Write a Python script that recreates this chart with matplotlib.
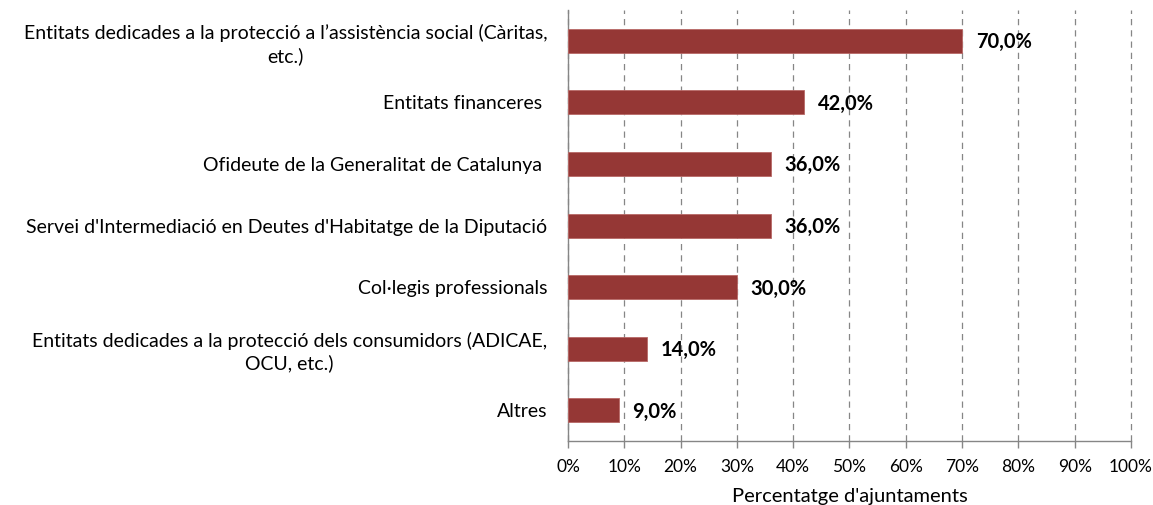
import matplotlib
matplotlib.use('Agg')
import matplotlib.pyplot as plt

plt.rcParams['font.family'] = ['Lato', 'DejaVu Sans']

categories = [
    "Entitats dedicades a la protecció a l\u2019assistència social (Càritas,\netc.)",
    "Entitats financeres ",
    "Ofideute de la Generalitat de Catalunya ",
    "Servei d'Intermediació en Deutes d'Habitatge de la Diputació",
    "Col\u00b7legis professionals",
    "Entitats dedicades a la protecció dels consumidors (ADICAE,\nOCU, etc.)",
    "Altres",
]
values = [70.0, 42.0, 36.0, 36.0, 30.0, 14.0, 9.0]
xticks = [0, 10, 20, 30, 40, 50, 60, 70, 80, 90, 100]

fig = plt.figure(figsize=(11.53, 5.05), dpi=100)
ax = fig.add_axes([0.4926, 0.1267, 0.4883, 0.8535])

ypos = list(range(len(categories)))
ax.barh(ypos, values, height=0.39, color='#953735', edgecolor='#b86866', linewidth=0.6, zorder=3)

for y, v in zip(ypos, values):
    ax.annotate(f"{v:.1f}".replace('.', ',') + '%', (v, y), xytext=(10, -1),
                textcoords='offset points', ha='left', va='center',
                fontsize=14.5, fontweight='bold', color='black', zorder=4)

ax.set_xlim(0, 100)
ax.set_ylim(len(categories) - 0.5, -0.5)
ax.set_yticks(ypos)
ax.set_yticklabels(categories, fontsize=14, multialignment='center', linespacing=1.3)
ax.set_xticks(xticks)
ax.set_xticklabels([f"{t}%" for t in xticks], fontsize=12.5)
ax.tick_params(axis='y', length=0, pad=15)
ax.tick_params(axis='x', length=5, width=1, color='#868686', pad=8)
ax.xaxis.grid(True, linestyle=(0, (5, 4)), color='#868686', linewidth=0.9, zorder=0)
for gl in ax.get_xgridlines():
    gl.set_clip_on(False)
ax.set_axisbelow(True)

for side in ['top', 'right']:
    ax.spines[side].set_visible(False)
for side in ['left', 'bottom']:
    ax.spines[side].set_color('#868686')
    ax.spines[side].set_linewidth(1)

ax.set_xlabel("Percentatge d'ajuntaments", fontsize=14.5, labelpad=9)

fig.savefig('out.png', dpi=100)
